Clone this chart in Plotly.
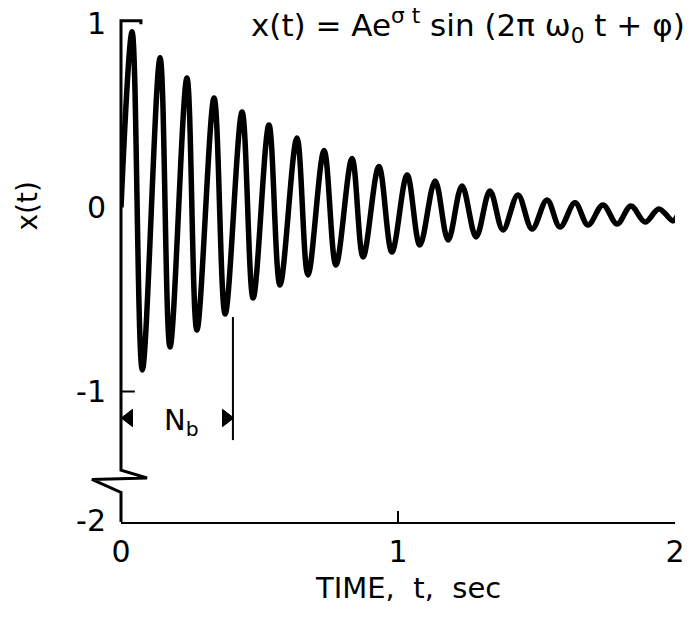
import plotly.graph_objects as go

# ---------------- data ----------------
# damped oscillation: successive maxima and minima (time in s, value of x(t))
PEAK_T = [0.040, 0.141, 0.238, 0.336, 0.437, 0.534, 0.635, 0.733, 0.834, 0.931,
          1.033, 1.134, 1.231, 1.332, 1.433, 1.538, 1.639, 1.740, 1.841, 1.942]
PEAK_X = [0.954, 0.813, 0.704, 0.595, 0.519, 0.448, 0.378, 0.310, 0.266, 0.223,
          0.177, 0.144, 0.117, 0.090, 0.068, 0.041, 0.025, 0.014, 0.008, -0.008]
TROUGH_T = [0.077, 0.177, 0.274, 0.376, 0.477, 0.574, 0.675, 0.776, 0.874, 0.978,
            1.079, 1.181, 1.282, 1.379, 1.484, 1.585, 1.686, 1.791, 1.892, 1.993]
TROUGH_X = [-0.883, -0.758, -0.666, -0.579, -0.492, -0.421, -0.367, -0.313, -0.269, -0.242,
            -0.204, -0.177, -0.160, -0.122, -0.117, -0.106, -0.095, -0.090, -0.079, -0.073]
START_T, START_X = 0.0, 0.0
END_T, END_X = 2.01, -0.04

X_TICKS = [0, 1, 2]
X_TICK_TEXT = ["0", "1", "2"]
# the y axis is broken below -1, so the "-2" label sits at the axis bottom
Y_TICKS = [1, 0, -1, -1.70]
Y_TICK_TEXT = ["1", "0", "-1", "-2"]

NB_T = 0.404            # end of the N_b interval (s)
NB_Y = -1.144           # level of the N_b dimension arrows
NB_LINE = [-0.595, -1.264]

# ---------------- layout constants ----------------
INK = "#000000"
FONT = "DejaVu Sans"
X_MIN, X_MAX = 0.0, 2.0
Y_MIN, Y_MAX = -1.709, 1.10


def xp(t):
    return (t - X_MIN) / (X_MAX - X_MIN)


def yp(v):
    return (v - Y_MIN) / (Y_MAX - Y_MIN)


# interleave the extrema into one curve
t_vals = [START_T]
x_vals = [START_X]
for pt, px_, tt, tx in zip(PEAK_T, PEAK_X, TROUGH_T, TROUGH_X):
    t_vals += [pt, tt]
    x_vals += [px_, tx]
t_vals.append(END_T)
x_vals.append(END_X)

fig = go.Figure()
fig.add_trace(go.Scatter(
    x=t_vals, y=x_vals, mode="lines",
    line=dict(color=INK, width=5.5, shape="spline", smoothing=1.0),
    hoverinfo="skip", showlegend=False))

# N_b end marker line
fig.add_trace(go.Scatter(
    x=[NB_T, NB_T], y=NB_LINE, mode="lines",
    line=dict(color=INK, width=2), hoverinfo="skip", showlegend=False))

# N_b arrow heads (pointing outward to the interval ends)
fig.add_trace(go.Scatter(
    x=[0.028, NB_T - 0.024], y=[NB_Y, NB_Y], mode="markers",
    marker=dict(symbol=["triangle-left", "triangle-right"], size=[15, 15],
                color=INK, opacity=1, line=dict(width=1, color=INK)),
    cliponaxis=False, hoverinfo="skip", showlegend=False))

# y axis drawn by hand: top bracket, broken-axis zigzag
ax_pts = [(0.072, 0.995), (0.072, 1.014), (0.0, 1.014), (0.0, -1.427),
          (0.094, -1.470), (-0.105, -1.478), (0.0, -1.548), (0.0, Y_MIN)]
path = "M " + " L ".join(f"{xp(a):.5f},{yp(b):.5f}" for a, b in ax_pts)
shapes = [dict(type="path", path=path, xref="paper", yref="paper",
               line=dict(color=INK, width=3))]
# small tick at -1
shapes.append(dict(type="line", xref="x", yref="y", x0=0, x1=0.05, y0=-1, y1=-1,
                   line=dict(color=INK, width=2)))

annotations = [
    dict(text="x(t) = Ae<sup>σ t</sup> sin (2π ω<sub>0</sub> t + φ)",
         xref="paper", yref="paper", x=xp(2.045), y=yp(0.99),
         xanchor="right", yanchor="middle", showarrow=False,
         font=dict(family=FONT, size=31, color=INK)),
    dict(text="x(t)", xref="paper", yref="paper", x=xp(-0.336), y=yp(0.01),
         textangle=-90, showarrow=False, xanchor="center", yanchor="middle",
         font=dict(family=FONT, size=28, color=INK)),
    dict(text="TIME,  t,  sec", xref="paper", yref="paper", x=xp(1.036), y=yp(-2.07),
         showarrow=False, xanchor="center", yanchor="middle",
         font=dict(family=FONT, size=29, color=INK)),
    dict(text="N<sub>b</sub>", xref="x", yref="y", x=0.217, y=NB_Y - 0.02,
         showarrow=False, xanchor="center", yanchor="middle",
         font=dict(family=FONT, size=29, color=INK)),
]

fig.update_layout(
    width=691, height=621,
    margin=dict(l=121, r=16, t=5, b=99),
    paper_bgcolor="white", plot_bgcolor="white",
    showlegend=False,
    shapes=shapes, annotations=annotations,
    xaxis=dict(range=[X_MIN, X_MAX], showgrid=False, zeroline=False,
               showline=True, linecolor=INK, linewidth=2,
               ticks="inside", ticklen=11, tickwidth=2, tickcolor=INK,
               tickvals=X_TICKS, ticktext=X_TICK_TEXT,
               tickfont=dict(family=FONT, size=30, color=INK),
               ticklabelstandoff=2),
    yaxis=dict(range=[Y_MIN, Y_MAX], showgrid=False, zeroline=False,
               showline=False, ticks="",
               tickvals=Y_TICKS, ticktext=Y_TICK_TEXT,
               tickfont=dict(family=FONT, size=30, color=INK),
               ticklabelstandoff=14),
)

fig.write_html("out.html", config={"displayModeBar": False},
               post_script="document.body.style.margin='0';")
